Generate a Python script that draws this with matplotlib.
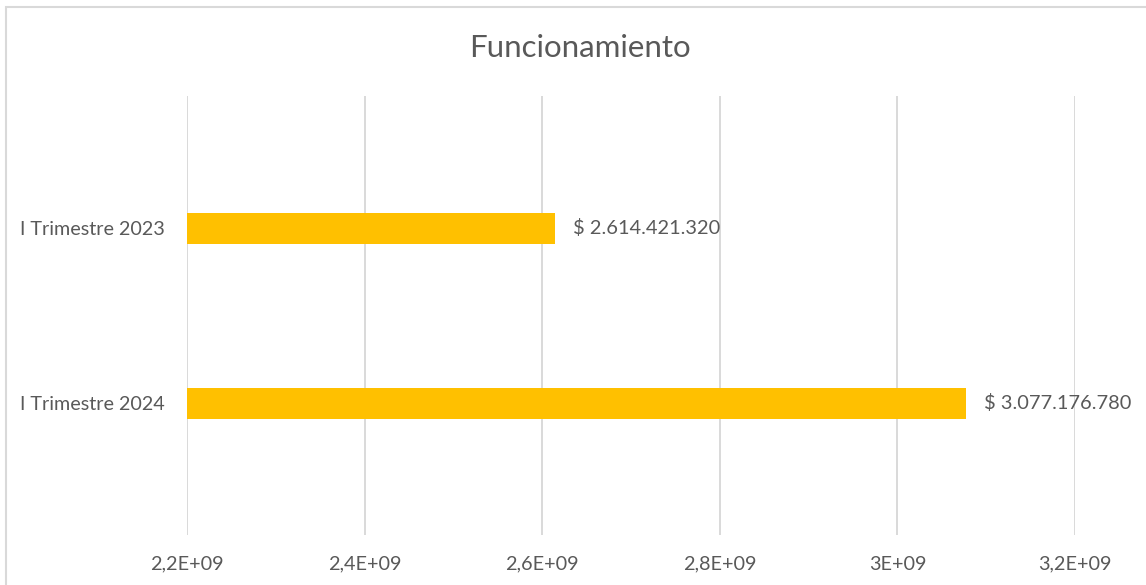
import matplotlib.pyplot as plt
from matplotlib.patches import Rectangle

# Datos del gráfico
categorias = ["I Trimestre 2023", "I Trimestre 2024"]
valores = [2614421320, 3077176780]
etiquetas_valor = ["$ 2.614.421.320", "$ 3.077.176.780"]
ticks_x = [2.2e9, 2.4e9, 2.6e9, 2.8e9, 3.0e9, 3.2e9]
etiquetas_x = ["2,2E+09", "2,4E+09", "2,6E+09", "2,8E+09", "3E+09", "3,2E+09"]

plt.rcParams['font.family'] = ['Lato', 'DejaVu Sans']
gris_texto = "#595959"
gris_linea = "#D9D9D9"
dorado = "#FFC000"

fig = plt.figure(figsize=(11.46, 5.85), dpi=100)
ax = fig.add_axes([187 / 1146, 1 - 535 / 585, (1075 - 187) / 1146, (535 - 96) / 585])

# borde del área del gráfico (solo se ven arriba e izquierda)
fig.patches.append(Rectangle((6 / 1146, -0.2), 1.2, 1.2 - 7 / 585, transform=fig.transFigure,
                             fill=False, edgecolor=gris_linea, linewidth=1.5, zorder=0))

posiciones = list(range(len(categorias)))
ax.barh(posiciones, [v - ticks_x[0] for v in valores], left=ticks_x[0], height=0.177,
        color=dorado, zorder=3)

for p, v, et in zip(posiciones, valores, etiquetas_valor):
    ax.annotate(et, (v, p), xytext=(13, 0), textcoords="offset points",
                va="center", ha="left", fontsize=14.4, color=gris_texto)

ax.set_xlim(ticks_x[0], ticks_x[-1])
ax.set_ylim(1.754, -0.757)
ax.set_xticks(ticks_x)
ax.set_xticklabels(etiquetas_x)
ax.set_yticks(posiciones)
ax.set_yticklabels(categorias)
ax.tick_params(axis="x", length=0, pad=15, labelsize=14.3, labelcolor=gris_texto)
ax.tick_params(axis="y", length=0, pad=16, labelsize=14.2, labelcolor=gris_texto)

ax.grid(axis="x", color=gris_linea, linewidth=1.4, zorder=0)
ax.set_axisbelow(True)
for lado in ax.spines.values():
    lado.set_visible(False)

fig.text(580 / 1146, 1 - 48 / 585, "Funcionamiento", ha="center", va="center",
         fontsize=22.5, color=gris_texto)

fig.savefig("out.png", dpi=100)
